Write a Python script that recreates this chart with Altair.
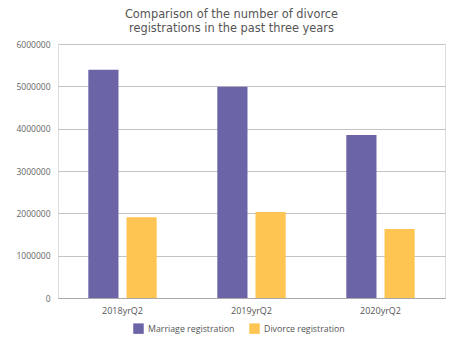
import altair as alt
import pandas as pd

quarters = ["2018yrQ2", "2019yrQ2", "2020yrQ2"]
series = ["Marriage registration", "Divorce registration"]
marriage = [5390000, 4990000, 3850000]
divorce = [1910000, 2030000, 1630000]
y_ticks = [0, 1000000, 2000000, 3000000, 4000000, 5000000, 6000000]

rows = []
for i, q in enumerate(quarters):
    rows.append({"quarter": q, "series": series[0], "value": marriage[i]})
    rows.append({"quarter": q, "series": series[1], "value": divorce[i]})
df = pd.DataFrame(rows)

FONT = "Open Sans"

chart = alt.Chart(df).mark_bar().encode(
    x=alt.X("quarter:N", sort=quarters,
            scale=alt.Scale(paddingInner=0.47, paddingOuter=0.235),
            axis=alt.Axis(title=None, labelAngle=0, ticks=False, domainColor="#aaaaaa",
                          labelFontSize=9, labelColor="#555555", labelPadding=8, labelFont=FONT)),
    xOffset=alt.XOffset("series:N", sort=series, scale=alt.Scale(paddingInner=0.21, paddingOuter=0)),
    y=alt.Y("value:Q", scale=alt.Scale(domain=[0, 6000000]),
            axis=alt.Axis(title=None, values=y_ticks, format="d", ticks=False, domain=False,
                          gridColor="#c4c4c4", labelFontSize=8.5, labelColor="#666666",
                          labelPadding=8, labelFont=FONT)),
    color=alt.Color("series:N", sort=series,
                    scale=alt.Scale(domain=series, range=["#6b65a8", "#ffc553"]),
                    legend=alt.Legend(title=None, orient="none", direction="horizontal",
                                      legendX=75, legendY=279, symbolType="square",
                                      symbolSize=110, symbolStrokeWidth=0,
                                      labelFontSize=8.8, labelColor="#555555", labelFont=FONT,
                                      columnPadding=14)),
).properties(
    width=387, height=254,
    title=alt.TitleParams(["Comparison of the number of divorce",
                           "registrations in the past three years"],
                          fontSize=11.4, font="DejaVu Sans", fontWeight="normal", color="#555555",
                          anchor="middle", dx=-20, offset=6, lineHeight=13.6),
    autosize=alt.AutoSizeParams(type="none"),
    padding={"left": 58, "top": 44, "right": 4, "bottom": 42},
).configure_view(stroke=None).configure(background="white")

chart.save("out.html", embed_options={"renderer": "svg", "actions": False})
